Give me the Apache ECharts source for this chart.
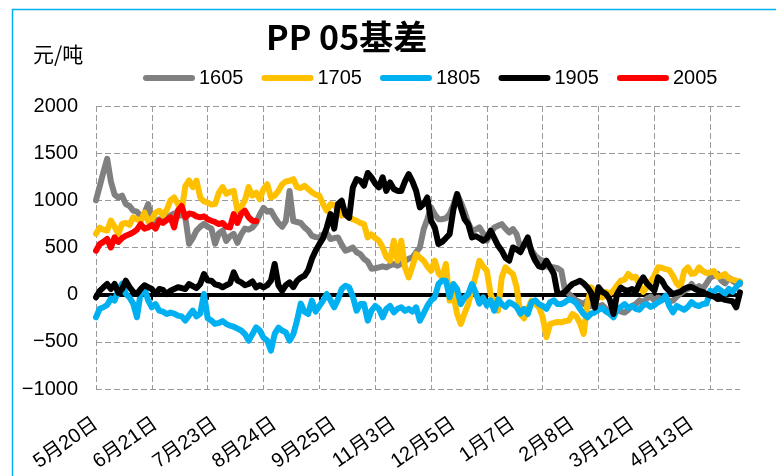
<!DOCTYPE html>
<html>
<head>
<meta charset="utf-8">
<script src="https://cdn.jsdelivr.net/npm/echarts@6/dist/echarts.min.js"></script>
<style>
  html, body { margin: 0; padding: 0; background: #fff; }
  #chart { width: 776px; height: 476px; }
</style>
</head>
<body>
<div id="chart"></div>
<script>
// x tick labels, one every 16 trading days
const tickLabels = ['5月20日', '6月21日', '7月23日', '8月24日', '9月25日', '11月3日',
  '12月5日', '1月7日', '2月8日', '3月12日', '4月13日'];

// basis (元/吨) per trading day
const s1605 = [
  1000, 1150, 1300, 1440, 1200, 1060, 1030, 1050, 960, 940,
  890, 880, 830, 860, 960, 790, 780, 800, 770, 815,
  840, 860, 830, 850, 820, 540, 600, 680, 720, 750,
  720, 700, 540, 650, 680, 570, 620, 645, 550, 640,
  700, 690, 710, 760, 850, 920, 880, 890, 820, 760,
  720, 780, 1100, 780, 770, 760, 713, 680, 625, 610,
  607, 640, 650, 590, 600, 607, 530, 466, 480, 500,
  450, 430, 380, 350, 275, 280, 290, 300, 290, 310,
  325, 307, 330, 360, 380, 395, 450, 500, 690, 800,
  925, 850, 800, 800, 810, 855, 950, 1066, 980, 880,
  760, 680, 690, 713, 650, 572, 650, 713, 730, 748,
  700, 660, 695, 640, 500, 520, 537, 470, 413, 380,
  360, 300, 290, 290, 280, 254, 42, 10, -30, -60,
  -80, -100, -60, -120, -90, -130, -110, -150, -200, -160,
  -140, -180, -190, -160, -120, -100, -60, -80, -40, -20,
  -60, -30, -50, -40, -70, -63, -20, 10, 40, 60,
  113, 60, 90, 60, 120, 180, 200, 220, 150, 120,
  180, 148, 120, 113
];
const s1705 = [
  646, 710, 690, 680, 785, 720, 646, 750, 760, 740,
  820, 800, 780, 870, 780, 800, 870, 890, 840, 900,
  1000, 1030, 960, 890, 1150, 1210, 1140, 1210, 1030, 990,
  975, 955, 960, 1080, 1140, 1070, 1090, 1100, 890, 930,
  1000, 1140, 1050, 1080, 1013, 1120, 1170, 1030, 1050, 1100,
  1170, 1200, 1207, 1225, 1140, 1130, 1155, 1120, 1085, 1060,
  1050, 960, 890, 960, 950, 900, 837, 850, 820, 800,
  784, 760, 748, 607, 640, 600, 572, 500, 400, 360,
  572, 360, 572, 290, 183, 300, 430, 395, 360, 300,
  254, 360, 230, 183, 325, -63, 0, -205, -310, -200,
  -100, 50, 200, 360, 300, 254, 7, -100, -170, 183,
  290, 250, 219, 78, -205, -250, -150, -63, -100, -134,
  -240, -450, -310, -300, -290, -293, -280, -275, -205, -230,
  -300, -416, -100, 78, 20, 0, -30, 30, 10, 42,
  100, 148, 160, 219, 180, 190, 100, 30, 80, 140,
  200, 290, 286, 270, 260, 200, 120, 78, 250, 290,
  220, 230, 290, 250, 230, 236, 250, 190, 200, 219,
  170, 160, 148, 140
];
const s1805 = [
  -240, -150, -134, -110, -40, -63, 50, 116, 10, -30,
  -95, -240, 20, 74, -60, -134, -100, -170, -180, -205,
  -190, -200, -222, -230, -275, -220, -170, -230, -200, 7,
  -250, -275, -310, -300, -280, -310, -328, -340, -360, -380,
  -416, -487, -420, -346, -380, -455, -487, -593, -416, -350,
  -380, -400, -487, -420, -275, -95, -180, -205, -63, -180,
  -120, -63, 7, -60, -134, -50, 60, 95, 78, -20,
  -170, -100, -100, -275, -170, -120, -150, -240, -150, -120,
  -187, -150, -134, -170, -150, -180, -134, -275, -200, -120,
  -60, -28, 113, 150, 148, -28, 113, 60, -100, -30,
  7, 113, 20, -95, -30, -116, -60, -170, -50, -100,
  -130, -80, -100, -130, -200, -150, -205, -80, -60, -100,
  -120, -150, -80, -60, -100, -100, -80, -50, -60, -90,
  -150, -205, -240, -200, -187, -160, -140, -180, -200, -240,
  -160, -130, -100, -140, -120, -150, -160, -110, -100, -130,
  -110, -80, -60, -10, -120, -187, -120, -140, -160, -130,
  -80, -110, -120, -100, -95, 40, 30, 70, 40, 10,
  60, 30, 80, 127
];
const s1905 = [
  -28, 40, 78, 113, 60, 113, 20, 60, 148, 80,
  30, 7, 60, 100, 80, 60, 7, 60, 50, 7,
  42, 60, 78, 70, 60, 113, 90, 70, 113, 219,
  150, 148, 110, 100, 78, 100, 120, 236, 150, 130,
  100, 113, 140, 78, 100, 78, 100, 148, 325, 100,
  42, 100, 130, 80, 148, 180, 200, 260, 380, 466,
  536, 600, 713, 854, 700, 960, 995, 850, 815, 1137,
  1225, 1207, 1155, 1290, 1243, 1180, 1137, 1243, 1100, 1190,
  1120, 1100, 1100, 1200, 1278, 1200, 1100, 925, 960, 1030,
  784, 713, 537, 560, 600, 642, 900, 1066, 925, 800,
  748, 607, 620, 600, 572, 600, 678, 600, 520, 466,
  390, 360, 500, 480, 450, 530, 607, 450, 360, 300,
  290, 360, 290, 219, 7, 10, 30, 74, 113, 130,
  148, 120, 78, 20, -137, 78, 30, 7, -50, -205,
  10, 74, 50, 42, 60, 30, 120, 183, 120, 80,
  42, 183, 150, 80, 40, 7, 20, 30, 60, 78,
  80, 60, 40, 30, 7, -10, -20, -46, -40, -55,
  -63, -70, -134, 25
];
const s2005 = [
  466, 536, 560, 590, 500, 607, 560, 600, 625, 640,
  660, 690, 748, 700, 713, 740, 700, 784, 760, 790,
  820, 713, 890, 940, 820, 860, 854, 830, 820, 830,
  800, 784, 770, 748, 760, 720, 713, 854, 760, 860,
  890, 820, 784, 780
];

const seriesNames = ['1605', '1705', '1805', '1905', '2005'];
const seriesColors = ['#808080', '#FFC000', '#00B0F0', '#000000', '#FF0000'];
const seriesData = [s1605, s1705, s1805, s1905, s2005];

const labelStep = 16;
const gridStep = 15;
const categories = s1605.map((v, i) => String(i));

const latin = '"Liberation Sans", "Noto Sans CJK SC", sans-serif';
const dash = { color: '#9a9a9a', width: 1, type: [6, 3] };

const chart = echarts.init(document.getElementById('chart'));
chart.setOption({
  animation: false,
  backgroundColor: '#fff',
  title: {
    text: 'PP 05基差',
    left: 266,
    top: 20,
    padding: 0,
    textStyle: { fontFamily: '"Noto Sans CJK SC"', fontWeight: 'bold', fontSize: 34, color: '#000' }
  },
  legend: {
    data: seriesNames,
    left: 143,
    top: 68,
    padding: 0,
    itemWidth: 52,
    itemHeight: 6,
    itemGap: 18,
    icon: 'path://M3,0 L49,0 A3,3 0 0 1 49,6 L3,6 A3,3 0 0 1 3,0 Z',
    textStyle: { fontFamily: latin, fontSize: 20, color: '#000', padding: [0, 0, 0, -1] }
  },
  graphic: [
    {
      type: 'rect',
      shape: { x: 12.5, y: 9.5, width: 900, height: 600 },
      style: { fill: 'none', stroke: '#00B0F0', lineWidth: 1.5 },
      silent: true
    },
    {
      type: 'text',
      left: 33,
      top: 44,
      style: { text: '元/吨', font: '21px "Noto Sans CJK SC"', fill: '#000' }
    }
  ],
  grid: { left: 96, right: 36, top: 106, bottom: 87, outerBoundsMode: 'none' },
  xAxis: [
    {
      type: 'category',
      data: categories,
      boundaryGap: false,
      axisLine: { show: false, onZero: false },
      axisTick: { show: false },
      axisLabel: {
        interval: labelStep - 1,
        rotate: 35,
        margin: 33,
        fontFamily: latin,
        fontSize: 20,
        color: '#000',
        formatter: (v, idx) => tickLabels[idx / labelStep]
      },
      splitLine: { show: true, interval: gridStep - 1, lineStyle: dash }
    },
    {
      type: 'category',
      data: categories,
      boundaryGap: false,
      position: 'bottom',
      axisLine: { show: true, onZero: true, onZeroAxisIndex: 0, lineStyle: { color: '#000', width: 4 } },
      axisTick: { show: true, interval: gridStep - 1, length: 5, lineStyle: { color: '#000', width: 2 } },
      axisLabel: { show: false },
      splitLine: { show: false }
    }
  ],
  yAxis: {
    type: 'value',
    min: -1000,
    max: 2000,
    interval: 500,
    axisLine: { show: false },
    axisTick: { show: false },
    axisLabel: {
      margin: 18,
      fontFamily: latin,
      fontSize: 20,
      color: '#000',
      formatter: v => (v < 0 ? '\u2212' + (-v) : String(v))
    },
    splitLine: { show: true, lineStyle: dash }
  },
  series: seriesNames.map((name, k) => ({
    name: name,
    type: 'line',
    data: seriesData[k],
    symbol: 'none',
    color: seriesColors[k],
    lineStyle: { width: 6, color: seriesColors[k], join: 'round', cap: 'round' }
  }))
});
</script>
</body>
</html>
